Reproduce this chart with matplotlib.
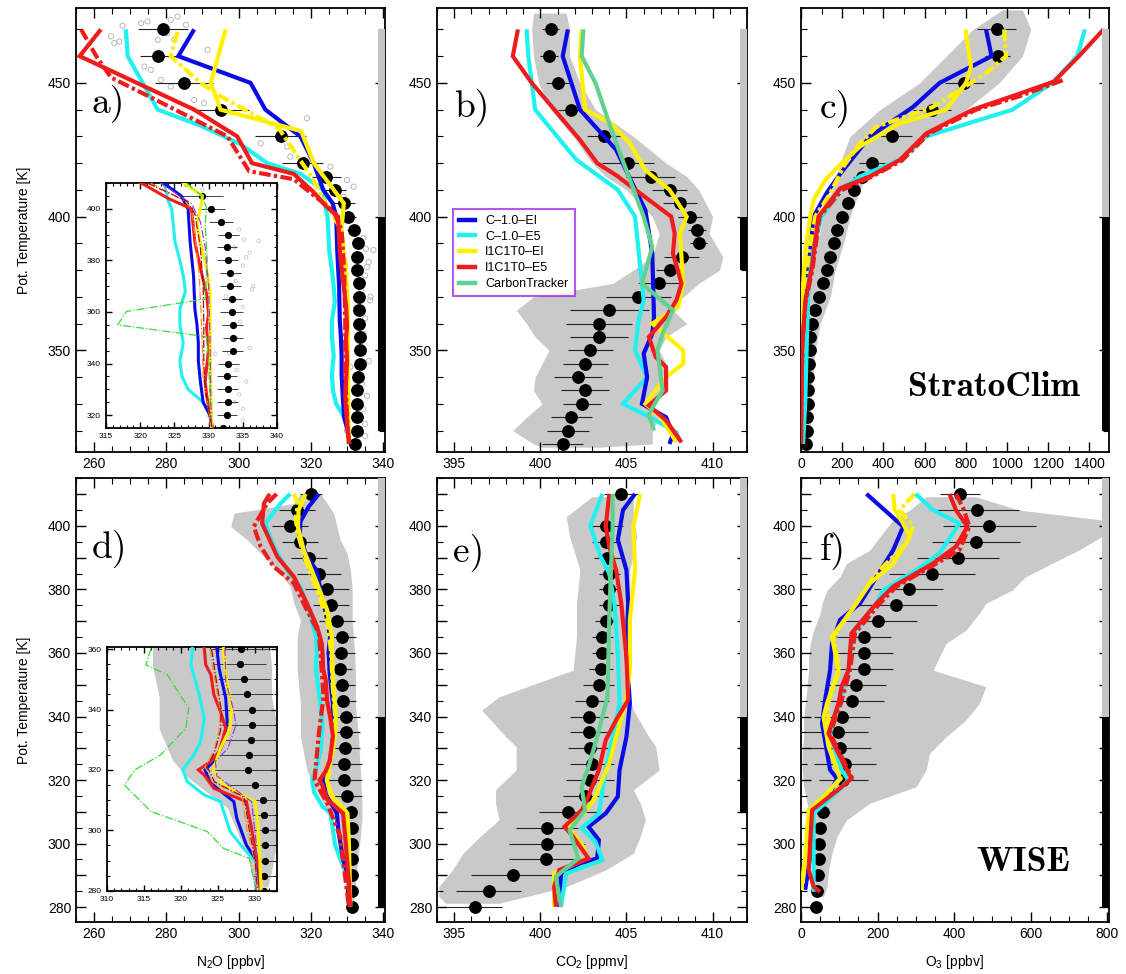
import matplotlib
matplotlib.use('Agg')
import matplotlib.pyplot as plt
from matplotlib.ticker import MultipleLocator, FuncFormatter
from matplotlib.patches import Rectangle
from matplotlib.lines import Line2D
import matplotlib.transforms as mtransforms

plt.rcParams['font.family'] = ['Liberation Sans', 'DejaVu Sans']
plt.rcParams['mathtext.fontset'] = 'custom'
plt.rcParams['mathtext.rm'] = 'Liberation Sans'
plt.rcParams['mathtext.it'] = 'Liberation Sans:italic'

# ------------------------------------------------------------------ data
LEGEND_LABELS = ['C–1.0–EI', 'C–1.0–E5', 'I1C1T0–EI', 'I1C1T0–E5', 'CarbonTracker']

# ---- panel a : N2O StratoClim
A_DOT_Y = [470, 460, 450, 440, 430, 420, 415, 410, 405, 400, 395, 390, 385, 380, 375, 370, 365, 360, 355, 350, 345, 340, 335, 330, 325, 320, 315]
A_DOT_X = [279.1, 277.6, 284.9, 295.0, 311.6, 317.7, 324.2, 326.8, 329.1, 330.4, 331.8, 332.9, 332.7, 332.8, 333.2, 333.2, 333.4, 333.4, 333.5, 333.6, 333.5, 332.9, 332.7, 332.8, 332.8, 332.7, 332.1]
A_DOT_ERR = [7, 5, 8, 8, 7, 5.7, 4, 3, 3, 2, 1.7, 1.5, 1.5, 1.5, 1.5, 1.5, 1.5, 1.7, 1.5, 1.5, 1.5, 1.5, 1.5, 1.5, 1.5, 1.5, 1.5]
A_BLUE_Y = [470, 460, 450, 440, 430, 420, 410, 405, 400, 387, 374, 361, 355, 348, 341, 333, 325, 320, 315]
A_BLUE_X = [287.7, 283.3, 303.3, 307.4, 317.1, 320.8, 323.4, 326.0, 327.0, 327.3, 327.8, 328.0, 328.3, 328.5, 328.5, 328.8, 329.2, 330.2, 330.5]
A_CYAN_Y = [470, 460, 440, 434, 427, 420, 416, 410, 403, 400, 387, 380, 374, 368, 361, 355, 348, 341, 335, 330, 325, 320, 315]
A_CYAN_X = [268.8, 269.3, 277.6, 289.5, 300.6, 307.9, 317.1, 323.5, 324.1, 324.6, 325.1, 325.8, 326.3, 326.6, 325.8, 325.8, 326.3, 325.8, 326.1, 327.0, 329.2, 330.2, 330.5]
A_RED_Y = [470, 460, 440, 430, 420, 416, 409.5, 404, 400, 387, 377, 367, 359, 354, 346, 338, 333, 328, 320, 315]
A_RED_X = [261.9, 256.0, 287.7, 299.6, 303.7, 315.2, 320.5, 324.1, 327.5, 328.0, 328.8, 329.7, 330.0, 329.7, 330.0, 329.7, 329.5, 329.7, 330.2, 330.6]
A_REDDD_Y = [470, 460, 452, 444, 430, 417, 414, 402, 395, 380, 360, 340, 320, 315]
A_REDDD_X = [256.4, 260.6, 264.7, 276.6, 296.9, 302.9, 315.2, 326.3, 328.5, 329.2, 329.5, 329.5, 330.2, 330.6]
A_YEL_Y = [470, 450, 440, 432, 420, 405, 400, 394, 387, 377, 368, 355, 335, 320, 315]
A_YEL_X = [296.4, 292.3, 295.0, 317.3, 320.8, 329.1, 328.8, 328.3, 328.8, 329.7, 330.2, 330.2, 330.3, 330.4, 330.4]
A_YELDD_Y = [469, 460, 450, 445, 433, 414, 404, 395, 380, 360, 340, 320, 315]
A_YELDD_X = [283.1, 281.2, 289.5, 295.0, 311.1, 320.6, 324.4, 328.5, 329.8, 330.0, 330.1, 330.3, 330.4]
A_PTS_X = [267.9, 264.7, 265.6, 267.0, 273.0, 274.8, 281.2, 283.1, 285.4, 280.3, 277.6, 282.2, 273.9, 275.7, 278.5, 281.2, 287.7, 291.4, 290.4, 318.9, 314.3, 313.4, 306.1, 325.4, 330.0, 329.1, 331.8, 335.5, 336.4, 334.6, 337.3, 330.9, 334.1, 335.0, 330.0, 334.5, 335.2, 333.8, 336.0, 335.0, 334.0, 336.5, 332.5, 335.0, 334.0, 336.0, 333.0, 335.5, 334.5, 333.8, 335.0]
A_PTS_Y = [471.3, 467.4, 464.9, 465.5, 472.3, 473.0, 473.6, 474.8, 471.7, 468.6, 466.1, 466.1, 456.1, 454.9, 451.1, 448.6, 443.6, 462.4, 442.4, 436.8, 422.4, 426.2, 427.4, 418.7, 413.7, 407.4, 411.2, 381.2, 368.7, 356.2, 387.5, 343.8, 337.5, 322.5, 320.0, 392, 388, 385, 383, 378, 372, 370, 366, 362, 350, 346, 344, 333, 328, 325, 318]
# inset-only thin dash-dot series
AI_GRN_Y = [410, 405, 400.4, 394, 380, 365, 360.2, 355, 350.4, 340, 320, 315]
AI_GRN_X = [326.8, 329.0, 329.7, 329.5, 329.8, 329.5, 318.0, 316.7, 329.7, 330.0, 330.3, 330.4]
AI_PUR_Y = [410, 402, 395, 385, 370, 350, 330, 315]
AI_PUR_X = [322.9, 327.5, 328.8, 329.5, 330.0, 330.2, 330.3, 330.4]
AI_ORG_Y = [410, 403, 400, 390, 375, 360, 345, 335, 325, 320, 315]
AI_ORG_X = [321.5, 326.5, 327.5, 328.0, 328.6, 328.9, 329.1, 329.2, 329.8, 330.2, 330.5]
AI_DRD_Y = [410, 403, 398, 385, 370, 355, 340, 330, 320, 315]
AI_DRD_X = [321.0, 326.8, 328.0, 328.8, 329.2, 329.3, 329.3, 329.5, 330.2, 330.5]

# ---- panel b : CO2 StratoClim
B_DOT_Y = A_DOT_Y
B_DOT_X = [400.6, 400.5, 401.0, 401.8, 403.7, 405.1, 406.4, 407.5, 408.1, 408.7, 409.1, 409.2, 408.2, 407.5, 406.9, 405.7, 404.0, 403.4, 403.4, 402.9, 402.6, 402.2, 402.6, 402.4, 401.8, 401.6, 401.3]
B_DOT_ERR = [0.5, 0.5, 0.7, 0.8, 1.0, 1.5, 1.4, 1.0, 1.0, 0.7, 0.5, 0.5, 1.0, 0.8, 1.2, 1.9, 2.3, 1.9, 1.7, 1.3, 1.3, 1.4, 1.4, 1.1, 1.2, 1.2, 1.2]
B_BLUE_Y = [470, 460, 440, 425, 402.4, 386.2, 362.5, 356.2, 348.8, 340, 330, 325, 318.8, 315]
B_BLUE_X = [401.6, 401.3, 402.3, 404.4, 406.1, 406.5, 406.6, 406.5, 406.0, 406.2, 405.9, 407.3, 407.7, 407.5]
B_CYAN_Y = [470, 460, 440, 421.2, 410, 400, 381.2, 368.7, 361.2, 350, 340, 330, 325.6, 319.4, 316]
B_CYAN_X = [399.2, 399.3, 399.7, 402.1, 404.5, 405.5, 405.8, 406.0, 405.7, 405.5, 406.2, 404.8, 406.2, 407.9, 408.1]
B_RED_Y = [470, 460, 450, 428.7, 420, 415.5, 408.7, 400, 393.7, 386.2, 375, 368.7, 362.5, 355, 347.5, 343.8, 335, 329.4, 323.8, 315.6]
B_RED_X = [398.7, 398.4, 399.5, 402.3, 403.3, 404.4, 405.8, 407.6, 407.8, 407.7, 408.2, 407.9, 407.3, 406.3, 406.7, 407.3, 407.3, 406.3, 407.3, 408.2]
B_YEL_Y = [470, 460, 440, 434.9, 427.4, 417.4, 410, 400, 393.7, 375, 366.2, 360, 350, 345, 340, 330, 325, 315.6]
B_YEL_X = [402.4, 402.3, 402.6, 404.1, 405.2, 406.1, 407.5, 408.5, 408.1, 408.3, 408.0, 406.5, 408.3, 408.3, 407.3, 406.1, 407.0, 407.9]
B_GRN_Y = [470, 460, 450, 431.1, 400, 388.7, 375, 365, 356.2, 350, 335, 326.2, 320]
B_GRN_X = [402.5, 402.4, 403.2, 404.2, 406.0, 406.5, 405.9, 407.7, 407.1, 406.8, 407.1, 406.3, 406.6]
B_CLD_Y = [476.1, 470, 460, 450, 440, 430, 420, 415, 410, 400, 393.7, 385, 380, 375, 370, 365, 360, 355, 350, 345, 340, 335, 330, 325, 320, 315, 313.8]
B_CLD_L = [399.6, 399.5, 399.6, 399.9, 400.6, 401.9, 403.0, 403.8, 405.0, 406.5, 406.9, 406.5, 405.4, 404.2, 399.6, 398.6, 399.2, 399.7, 400.5, 400.1, 399.7, 399.6, 400.1, 399.2, 398.4, 399.6, 400.1]
B_CLD_R = [401.5, 401.7, 401.7, 402.3, 403.2, 405.4, 407.3, 408.5, 409.2, 410.0, 409.8, 410.6, 410.4, 409.2, 408.3, 407.7, 408.5, 407.3, 406.9, 407.3, 407.1, 406.9, 406.5, 406.9, 406.5, 406.5, 403.4]

# ---- panel c : O3 StratoClim
C_DOT_Y = A_DOT_Y
C_DOT_X = [949, 954, 793, 637, 444, 344, 294, 257, 230, 198, 174, 158, 142, 126, 105, 85, 69, 53, 45, 42, 37, 34, 34, 32, 29, 29, 26]
C_DOT_ERR = [97, 60, 93, 93, 93, 64, 40, 25, 20, 15, 12, 10, 10, 10, 10, 10, 10, 8, 8, 8, 8, 8, 8, 8, 8, 8, 8]
C_BLUE_Y = [470, 460, 450, 441, 430, 416, 409, 400, 375, 356, 315]
C_BLUE_X = [898, 925, 673, 544, 335, 190, 126, 61, 29, 21, 5]
C_YEL_Y = [470, 456, 450, 440, 434.9, 426.2, 420, 413.7, 406.2, 400, 387.5, 368.7, 343.8, 315]
C_YEL_X = [798, 825, 801, 704, 480, 286, 198, 117, 61, 45, 21, 5, 0, 5]
C_YELDD_Y = [470, 460, 453.6, 441, 433.6, 427.4, 418.7, 408.7, 400, 387, 370, 350, 330, 315]
C_YELDD_X = [986, 995, 898, 640, 367, 286, 206, 142, 69, 40, 18, 8, 4, 3]
C_CYAN_Y = [470, 460, 450, 440, 430, 421.2, 415, 410, 400, 391.2, 375, 356.2, 331.3, 315]
C_CYAN_X = [1378, 1341, 1220, 1027, 608, 480, 286, 190, 101, 69, 37, 29, 21, 10]
C_RED_Y = [470, 460, 450.5, 445.5, 440, 431.1, 421.2, 415, 410.6, 400, 381.2, 368.7, 350, 315]
C_RED_X = [1469, 1349, 1228, 1043, 834, 608, 480, 335, 190, 85, 53, 21, 5, 0]
C_REDDD_Y = [451, 445, 440, 431, 421, 415, 410, 400, 380, 368, 350, 315]
C_REDDD_X = [1270, 1060, 850, 620, 490, 345, 200, 90, 55, 22, 5, 0]
C_CLD_Y = [477.3, 470, 460, 450, 440, 430, 420, 415, 410, 400, 390, 380, 370, 360, 350, 340, 330, 320, 313.8]
C_CLD_L = [978, 834, 705, 576, 383, 238, 190, 174, 150, 109, 77, 45, 29, 13, 5, 5, 5, 5, 5]
C_CLD_R = [1075, 1115, 1075, 962, 801, 576, 447, 319, 286, 238, 206, 166, 142, 93, 69, 58, 48, 45, 42]

# ---- panel d : N2O WISE
D_DOT_Y = [410, 405, 400, 395, 390, 385, 380, 375, 370, 365, 360, 355, 350, 345, 340, 335, 330, 325, 320, 315, 310, 305, 300, 295, 290, 285, 280]
D_DOT_X = [320.0, 316.2, 314.2, 316.9, 319.4, 322.2, 324.5, 325.6, 327.2, 328.6, 328.2, 328.0, 328.6, 329.0, 329.6, 329.6, 329.5, 329.2, 329.1, 330.1, 331.2, 331.3, 331.4, 331.4, 331.4, 331.3, 331.3]
D_DOT_ERR = [3, 5, 5, 5, 5, 6, 6, 5, 5, 4, 4, 3.5, 3.5, 3.5, 4, 4, 4, 5, 5, 4, 1.5, 1.5, 1.5, 1.5, 1.5, 1.5, 1.5]
D_BLUE_Y = [410.1, 406.1, 401.4, 396.6, 390.3, 386.1, 375.6, 370.4, 365.1, 360.3, 353.7, 343.8, 336, 329.4, 323.9, 320, 315.6, 309.5, 304, 295.1, 289.6, 280.2]
D_BLUE_X = [322.2, 319.4, 317.1, 316.9, 318.9, 321.5, 323.5, 324.5, 325.3, 324.9, 325.2, 326.1, 326.3, 325.8, 324.9, 323.3, 324.1, 327.2, 327.6, 328.9, 330.4, 330.8]
D_CYAN_Y = [410.1, 407.1, 400.8, 393.5, 386.1, 380.9, 371.4, 365.1, 360.3, 354.8, 344.9, 337.1, 329.4, 325, 320, 316.1, 311.7, 309.5, 299.6, 294, 289.1, 280.2]
D_CYAN_X = [314.3, 311.6, 307.4, 309.7, 313.4, 317.1, 319.9, 321.4, 321.6, 321.4, 322.5, 323.2, 322.7, 321.8, 320.3, 320.9, 323.2, 325.4, 326.7, 328.5, 330.4, 330.8]
D_RED_Y = [410.1, 407.1, 400.8, 390.3, 384, 375.6, 368.3, 363, 360.3, 354.8, 351.5, 344.9, 339.3, 333.8, 326.1, 322.8, 320, 318.3, 313.9, 309.5, 300.7, 290.7, 287.4, 280.2]
D_RED_X = [308.6, 307.0, 306.5, 310.7, 315.3, 318.9, 321.7, 323.0, 323.2, 323.4, 324.1, 324.5, 325.4, 326.1, 325.2, 324.1, 322.4, 323.2, 324.5, 328.9, 329.6, 330.3, 330.6, 330.8]
D_REDDD_Y = [410.1, 407.1, 399.8, 393.5, 387.2, 381.9, 373.5, 366.2, 358.8, 346.2, 334.7, 320, 312.7, 302.2, 281]
D_REDDD_X = [310.5, 307.9, 304.2, 306.1, 309.7, 315.3, 318.9, 322.2, 322.7, 323.5, 322.2, 321.0, 324.5, 328.1, 330.4]
D_YEL_Y = [410.1, 405, 399.8, 392.4, 381.9, 373.5, 365.1, 360.3, 351.5, 340.4, 333.8, 327.2, 320, 315, 309.5, 300.7, 290.7, 280.2]
D_YEL_X = [318.5, 316.6, 316.4, 318.0, 321.7, 324.5, 325.8, 325.8, 326.1, 326.9, 326.7, 325.4, 324.4, 325.8, 330.1, 330.5, 330.7, 330.9]
D_YELDD_Y = [410.1, 407, 401.9, 396.6, 389.3, 379.8, 370.4, 360, 350, 340, 330, 320, 315, 310, 300, 290, 280]
D_YELDD_X = [315.3, 316.4, 315.8, 316.6, 318.5, 321.7, 324.5, 325.6, 326.0, 326.7, 326.2, 324.6, 325.6, 329.8, 330.4, 330.6, 330.9]
DI_GRN_Y = [360.3, 354.8, 351.5, 340.4, 333.8, 325, 320, 315, 306.2, 299.6, 294, 290.7, 280.2]
DI_GRN_X = [316.0, 315.3, 318.2, 321.1, 320.7, 317.3, 313.8, 312.4, 316.0, 323.6, 325.8, 329.3, 330.2]
DI_PUR_Y = [360.3, 349.3, 340.4, 334.9, 327.2, 322.8, 318, 309.5, 296.2, 280.2]
DI_PUR_X = [326.0, 326.1, 327.1, 327.5, 326.4, 324.7, 324.9, 329.6, 330.2, 330.2]
DI_ORG_Y = [360, 350, 340, 333, 326, 321, 316, 311, 300, 290, 280]
DI_ORG_X = [324.0, 324.6, 325.4, 325.2, 324.5, 323.3, 324.3, 328.3, 329.0, 330.0, 330.4]
DI_DRD_Y = [360, 350, 340, 333, 326, 321, 316, 311, 300, 290, 280]
DI_DRD_X = [324.2, 324.8, 325.5, 325.4, 324.6, 323.6, 324.6, 328.6, 329.3, 330.1, 330.4]
D_CLD_Y = [410.1, 407.1, 404, 399.8, 395.6, 391.4, 386.1, 380.9, 375.6, 370.4, 365.1, 354.6, 344.1, 338.9, 333.6, 328.4, 323.2, 317.9, 312.7, 307.5, 302.2, 296.9, 291.7, 286.4, 281.2]
D_CLD_L = [317.1, 315.3, 298.7, 297.8, 302.4, 306.1, 310.7, 314.3, 315.3, 317.1, 316.2, 316.2, 317.1, 317.1, 317.1, 318.0, 318.9, 320.8, 323.5, 326.3, 327.2, 328.1, 329.1, 329.5, 330.0]
D_CLD_R = [322.6, 324.5, 326.3, 327.2, 328.1, 330.0, 330.9, 331.4, 331.4, 331.4, 331.8, 332.3, 332.3, 332.7, 333.2, 333.4, 333.7, 333.9, 334.1, 334.1, 333.7, 333.2, 332.7, 332.3, 331.8]

# ---- panel e : CO2 WISE
E_DOT_Y = [410, 400, 395, 390, 385, 380, 375, 370, 365, 360, 355, 350, 345, 340, 335, 330, 325, 320, 315, 310, 305, 300, 295, 290, 285, 280]
E_DOT_X = [404.7, 403.8, 403.8, 403.9, 404.0, 404.0, 404.0, 403.8, 403.6, 403.6, 403.5, 403.4, 403.0, 402.8, 402.8, 402.9, 403.0, 402.9, 402.6, 401.6, 400.4, 400.4, 400.3, 398.4, 397.0, 396.2]
E_DOT_ERR = [1.0, 1.0, 0.8, 0.8, 0.6, 0.6, 0.6, 0.6, 0.6, 0.6, 0.7, 0.9, 1.0, 1.1, 1.1, 1.3, 1.3, 1.4, 1.3, 1.7, 1.8, 2.2, 2.1, 2.4, 1.9, 1.6]
E_BLUE_Y = [410.1, 405, 395.6, 386.1, 375.6, 359.9, 344.1, 333.6, 323.2, 314.8, 309.5, 305.3, 301.1, 295.3, 293.8, 290.6, 280]
E_BLUE_X = [405.5, 404.8, 404.5, 405.0, 405.1, 405.0, 405.2, 405.0, 404.6, 404.5, 403.8, 402.8, 403.4, 403.3, 402.3, 401.2, 401.1]
E_CYAN_Y = [410.1, 400.1, 390.3, 385.1, 375.6, 359.9, 344.1, 333.6, 323.2, 309.5, 304.8, 300.6, 294.8, 290.6, 280.1]
E_CYAN_X = [403.6, 402.9, 403.5, 404.0, 404.3, 404.5, 404.6, 404.2, 403.8, 403.4, 402.4, 403.2, 403.6, 401.5, 401.2]
E_RED_Y = [410.1, 399.8, 393.5, 386.1, 375.6, 358.8, 345.2, 338.9, 332.6, 323.2, 313.7, 310.5, 305.3, 302.2, 295.3, 291.7, 286.4, 280.1]
E_RED_X = [404.0, 403.8, 404.0, 404.4, 404.7, 405.0, 405.1, 404.4, 403.8, 403.4, 402.7, 402.4, 401.4, 401.9, 402.8, 401.1, 400.8, 400.9]
E_YEL_Y = [410.1, 399.8, 386.1, 370.4, 354.6, 345.2, 333.6, 325.2, 313.7, 309.5, 305.3, 299, 295.3, 290.6, 280.1]
E_YEL_X = [405.8, 405.4, 405.5, 405.2, 405.2, 405.0, 404.4, 404.0, 403.1, 402.5, 401.6, 402.5, 402.7, 400.8, 400.8]
E_GRN_Y = [410.1, 399.8, 386.1, 370.4, 346.2, 333.6, 324.2, 317.9, 310.5, 304.2, 295.3, 289.6, 280.1]
E_GRN_X = [404.2, 404.2, 404.1, 404.0, 403.9, 403.3, 402.8, 402.4, 402.6, 401.7, 402.2, 400.9, 401.2]
E_CLD_Y = [409.2, 402.9, 396.6, 386.1, 375.6, 365.1, 354.6, 346.2, 342.0, 333.6, 330.5, 323.2, 316.9, 312.7, 307.5, 302.2, 296.9, 291.7, 286.4, 283.3, 281.2]
E_CLD_L = [403.0, 401.5, 401.7, 402.3, 402.1, 402.1, 401.9, 397.6, 396.6, 398.0, 398.6, 398.6, 397.4, 397.4, 397.6, 396.5, 395.5, 394.9, 394.1, 394.1, 394.5]
E_CLD_R = [405.4, 405.4, 405.6, 405.2, 405.2, 405.0, 405.0, 405.2, 405.4, 406.3, 406.7, 406.9, 405.4, 405.8, 406.1, 405.8, 405.4, 403.8, 401.5, 399.2, 397.6]

# ---- panel f : O3 WISE
F_DOT_Y = [410, 405, 400, 395, 390, 385, 380, 375, 370, 365, 360, 355, 350, 345, 340, 335, 330, 325, 320, 310, 305, 300, 295, 290, 285, 280]
F_DOT_X = [416, 461, 492, 457, 410, 343, 282, 249, 202, 165, 165, 165, 145, 133, 107, 96, 102, 115, 111, 57, 50, 48, 48, 45, 42, 40]
F_DOT_ERR = [52, 110, 121, 115, 108, 113, 90, 106, 100, 71, 76, 76, 78, 84, 74, 80, 80, 80, 65, 20, 15, 15, 15, 15, 15, 15]
F_BLUE_Y = [410.1, 399.8, 392.4, 375.6, 370.4, 363, 354.6, 345.2, 337.8, 323.2, 320.5, 314.8, 310.5, 295.9, 285.4]
F_BLUE_X = [171, 267, 241, 154, 102, 81, 76, 63, 55, 76, 94, 72, 24, 24, 11]
F_YEL_Y = [410.1, 405, 400.8, 396.6, 388.2, 381.9, 375.6, 365.1, 354.6, 344.1, 339.9, 330.5, 320.5, 315.8, 310.5, 295.9, 285.4]
F_YEL_X = [241, 245, 267, 284, 241, 180, 145, 81, 98, 68, 59, 72, 102, 68, 20, 11, 0]
F_YELDD_Y = [410.1, 405, 399.8, 394.5, 384, 376.7, 365.1, 354.6, 344.1, 330.5, 320.5, 315.8, 310.5, 295.9, 285.4]
F_YELDD_X = [297, 258, 293, 275, 189, 150, 85, 100, 70, 74, 104, 70, 22, 13, 2]
F_CYAN_Y = [410.1, 405, 400.8, 391.4, 386.1, 379.8, 375.6, 366.2, 354.6, 346.2, 334.7, 323.2, 320, 313.7, 309.5, 295.9, 284.8]
F_CYAN_X = [300, 345, 414, 362, 301, 215, 197, 137, 124, 106, 76, 106, 124, 72, 33, 33, 33]
F_RED_Y = [410.1, 405, 399.8, 393.5, 388.2, 380.9, 375.6, 366.2, 354.6, 349.4, 344.1, 334.7, 325.2, 320.5, 317.4, 310.5, 291.7, 286.4, 284.8]
F_RED_X = [388, 405, 435, 405, 345, 241, 197, 132, 124, 106, 98, 72, 111, 132, 102, 29, 20, 33, 50]
F_REDDD_Y = [410.1, 405, 399.8, 392.4, 388.2, 380.9, 375.6, 366.2, 354.6, 344.1, 334.7, 325.2, 320.5]
F_REDDD_X = [405, 426, 440, 414, 354, 249, 206, 141, 128, 104, 76, 115, 134]
F_CLD_Y = [409.2, 405.0, 401.9, 396.6, 392.4, 388.2, 384.0, 379.8, 375.6, 372.5, 367.2, 363.0, 358.8, 354.6, 349.4, 344.1, 338.9, 333.6, 328.4, 323.2, 317.9, 312.7, 307.4, 302.2, 296.9, 291.7, 286.4, 283.3]
F_CLD_L = [327, 284, 241, 206, 180, 119, 102, 68, 55, 50, 33, 24, 20, 20, 16, 11, 7, 7, 3, 3, 7, 16, 24, 29, 33, 33, 33, 37]
F_CLD_R = [457, 570, 786, 786, 726, 656, 587, 552, 483, 466, 431, 379, 362, 345, 483, 466, 431, 379, 336, 327, 301, 180, 119, 94, 81, 72, 68, 59]

# side bars (grey range, black range) per panel
BARS = {
    'a': [(400, 470), (320, 400)], 'b': [(400, 470), (380, 400)], 'c': [(400, 470), (320, 400)],
    'd': [(340, 415), (280, 340)], 'e': [(340, 415), (310, 340)], 'f': [(340, 415), (280, 340)],
}

# ------------------------------------------------------------------ style
BLUE = '#0b0be6'
CYAN = '#1ff0f0'
YEL = '#fff000'
RED = '#ee1c1c'
GRN = '#62d08e'
CLOUD = '#c9c9c9'
LW = 3.0
DD = [2.8, 0.8, 0.8, 0.8]

fig = plt.figure(figsize=(11.26, 9.74), dpi=100)
W, H = 1126.0, 974.0


def add_ax(l, r, t, b):
    return fig.add_axes([l / W, 1 - b / H, (r - l) / W, (b - t) / H])


def style(ax, xmaj, xmin, ymaj, ymin, ylab_step, labelsize=10, lmaj=7, lmin=4):
    ax.xaxis.set_major_locator(MultipleLocator(xmaj))
    ax.xaxis.set_minor_locator(MultipleLocator(xmin))
    ax.yaxis.set_major_locator(MultipleLocator(ymaj))
    ax.yaxis.set_minor_locator(MultipleLocator(ymin))
    ax.yaxis.set_major_formatter(FuncFormatter(
        lambda v, p: '%d' % round(v) if abs(v / ylab_step - round(v / ylab_step)) < 1e-6 else ''))
    ax.xaxis.set_major_formatter(FuncFormatter(lambda v, p: '%d' % round(v)))
    ax.tick_params(which='both', direction='in', top=True, right=True, labelsize=labelsize)
    ax.tick_params(which='major', length=lmaj, width=1.0)
    ax.tick_params(which='minor', length=lmin, width=0.8)
    for s in ax.spines.values():
        s.set_linewidth(1.3)


def side_bars(ax, key):
    tr = mtransforms.blended_transform_factory(ax.transAxes, ax.transData)
    for (y0, y1), c in zip(BARS[key], ['#c4c4c4', 'black']):
        ax.add_patch(Rectangle((0.977, y0), 0.023, y1 - y0, transform=tr,
                               facecolor=c, edgecolor='none', zorder=6, clip_on=False))


def dots(ax, x, y, err, ms=8.2, elw=0.8):
    ax.errorbar(x, y, xerr=err, fmt='o', ms=ms, mfc='black', mec='black', ecolor='#222222',
                elinewidth=elw, capsize=0, zorder=3)


def line(ax, x, y, c, lw=LW, dashed=False, z=4):
    kw = dict(color=c, lw=lw, zorder=z, solid_joinstyle='miter', solid_capstyle='butt')
    if dashed:
        kw['dashes'] = DD
    ax.plot(x, y, **kw)


def panel_label(ax, txt, x, y):
    ax.text(x, y, txt, transform=ax.transAxes, fontsize=27, family='cmr10',
            ha='left', va='center', zorder=8)


# ------------------------------------------------------------------ panel a
axa = add_ax(76, 385, 8, 452)
axa.scatter(A_PTS_X, A_PTS_Y, s=14, facecolors='none', edgecolors='#b8b8b8', linewidths=0.7, zorder=1)
dots(axa, A_DOT_X, A_DOT_Y, A_DOT_ERR)
line(axa, A_CYAN_X, A_CYAN_Y, CYAN)
line(axa, A_BLUE_X, A_BLUE_Y, BLUE)
line(axa, A_YELDD_X, A_YELDD_Y, YEL, dashed=True)
line(axa, A_YEL_X, A_YEL_Y, YEL)
line(axa, A_REDDD_X, A_REDDD_Y, RED, dashed=True)
line(axa, A_RED_X, A_RED_Y, RED)
axa.set_xlim(255, 340.5)
axa.set_ylim(312, 478)
style(axa, 20, 5, 50, 10, 50)
axa.set_ylabel('Pot. Temperature [K]', fontsize=10, labelpad=12)
side_bars(axa, 'a')
panel_label(axa, 'a)', 0.05, 0.786)

# inset a
ia = add_ax(106, 277, 183, 428)
ia.set_zorder(10)
ia.set_facecolor('white')
ia.scatter(A_PTS_X, A_PTS_Y, s=6, facecolors='none', edgecolors='#bdbdbd', linewidths=0.5, zorder=1)
dots(ia, A_DOT_X, A_DOT_Y, A_DOT_ERR, ms=4.2, elw=0.6)
line(ia, A_CYAN_X, A_CYAN_Y, CYAN, lw=2.2)
line(ia, A_BLUE_X, A_BLUE_Y, BLUE, lw=2.2)
line(ia, A_RED_X, A_RED_Y, RED, lw=2.2)
line(ia, A_YEL_X, A_YEL_Y, YEL, lw=2.2)
for xs, ys, c in [(AI_GRN_X, AI_GRN_Y, '#33dd33'), (AI_PUR_X, AI_PUR_Y, '#9a3de0'),
                  (AI_ORG_X, AI_ORG_Y, '#ff8c1a'), (AI_DRD_X, AI_DRD_Y, '#a01010')]:
    ia.plot(xs, ys, color=c, lw=0.9, ls='-.', zorder=5)
ia.set_xlim(315, 340)
ia.set_ylim(315, 410)
style(ia, 5, 1, 20, 5, 20, labelsize=6, lmaj=4, lmin=2)

# ------------------------------------------------------------------ panel b
axb = add_ax(437, 747, 8, 452)
axb.fill_betweenx(B_CLD_Y, B_CLD_L, B_CLD_R, color=CLOUD, lw=0, zorder=1)
dots(axb, B_DOT_X, B_DOT_Y, B_DOT_ERR)
line(axb, B_CYAN_X, B_CYAN_Y, CYAN)
line(axb, B_BLUE_X, B_BLUE_Y, BLUE)
line(axb, B_YEL_X, B_YEL_Y, YEL)
line(axb, B_RED_X, B_RED_Y, RED)
line(axb, B_GRN_X, B_GRN_Y, GRN)
axb.set_xlim(394, 412)
axb.set_ylim(312, 478)
style(axb, 5, 1, 50, 10, 50)
side_bars(axb, 'b')
panel_label(axb, 'b)', 0.055, 0.777)
handles = [Line2D([], [], color=c, lw=3.2) for c in [BLUE, CYAN, YEL, RED, GRN]]
leg = axb.legend(handles, LEGEND_LABELS, loc='upper left', bbox_to_anchor=(0.05, 0.548),
                 fontsize=9, frameon=True, fancybox=False, handlelength=1.3, handletextpad=0.8,
                 labelspacing=0.3, borderpad=0.5, borderaxespad=0)
leg.get_frame().set_edgecolor('#9a2fe6')
leg.get_frame().set_linewidth(1.5)
leg.set_zorder(9)

# ------------------------------------------------------------------ panel c
axc = add_ax(801, 1109, 8, 452)
axc.fill_betweenx(C_CLD_Y, C_CLD_L, C_CLD_R, color=CLOUD, lw=0, zorder=1)
dots(axc, C_DOT_X, C_DOT_Y, C_DOT_ERR)
line(axc, C_BLUE_X, C_BLUE_Y, BLUE)
line(axc, C_YELDD_X, C_YELDD_Y, YEL, dashed=True)
line(axc, C_YEL_X, C_YEL_Y, YEL)
line(axc, C_CYAN_X, C_CYAN_Y, CYAN)
line(axc, C_REDDD_X, C_REDDD_Y, RED, dashed=True)
line(axc, C_RED_X, C_RED_Y, RED)
axc.set_xlim(0, 1495)
axc.set_ylim(312, 478)
style(axc, 200, 100, 50, 10, 50)
side_bars(axc, 'c')
panel_label(axc, 'c)', 0.062, 0.775)
axc.text(0.627, 0.146, 'StratoClim', transform=axc.transAxes, family='cmb10', fontsize=25.5,
         ha='center', va='center', zorder=8)

# ------------------------------------------------------------------ panel d
axd = add_ax(76, 385, 478, 922)
axd.fill_betweenx(D_CLD_Y, D_CLD_L, D_CLD_R, color=CLOUD, lw=0, zorder=1)
dots(axd, D_DOT_X, D_DOT_Y, D_DOT_ERR)
line(axd, D_CYAN_X, D_CYAN_Y, CYAN)
line(axd, D_BLUE_X, D_BLUE_Y, BLUE)
line(axd, D_YELDD_X, D_YELDD_Y, YEL, dashed=True)
line(axd, D_YEL_X, D_YEL_Y, YEL)
line(axd, D_REDDD_X, D_REDDD_Y, RED, dashed=True)
line(axd, D_RED_X, D_RED_Y, RED)
axd.set_xlim(255, 340.5)
axd.set_ylim(275.3, 415.1)
style(axd, 20, 5, 10, 5, 20)
axd.set_ylabel('Pot. Temperature [K]', fontsize=10, labelpad=12)
axd.set_xlabel('N$_2$O [ppbv]', fontsize=10, labelpad=9)
side_bars(axd, 'd')
panel_label(axd, 'd)', 0.05, 0.842)

# inset d
idd = add_ax(106.7, 276.7, 646.7, 890.7)
idd.set_zorder(10)
idd.set_facecolor('white')
idd.fill_betweenx(D_CLD_Y, D_CLD_L, D_CLD_R, color=CLOUD, lw=0, zorder=1)
dots(idd, D_DOT_X, D_DOT_Y, D_DOT_ERR, ms=4.2, elw=0.6)
line(idd, D_CYAN_X, D_CYAN_Y, CYAN, lw=2.2)
line(idd, D_BLUE_X, D_BLUE_Y, BLUE, lw=2.2)
line(idd, D_RED_X, D_RED_Y, RED, lw=2.2)
line(idd, D_YEL_X, D_YEL_Y, YEL, lw=2.2)
for xs, ys, c in [(DI_GRN_X, DI_GRN_Y, '#33dd33'), (DI_PUR_X, DI_PUR_Y, '#9a3de0'),
                  (DI_ORG_X, DI_ORG_Y, '#ff8c1a'), (DI_DRD_X, DI_DRD_Y, '#a01010')]:
    idd.plot(xs, ys, color=c, lw=0.9, ls='-.', zorder=5)
idd.set_xlim(310, 333)
idd.set_ylim(280, 360.8)
style(idd, 5, 1, 20, 5, 20, labelsize=6, lmaj=4, lmin=2)

# ------------------------------------------------------------------ panel e
axe = add_ax(437, 747, 478, 922)
axe.fill_betweenx(E_CLD_Y, E_CLD_L, E_CLD_R, color=CLOUD, lw=0, zorder=1)
dots(axe, E_DOT_X, E_DOT_Y, E_DOT_ERR)
line(axe, E_BLUE_X, E_BLUE_Y, BLUE)
line(axe, E_CYAN_X, E_CYAN_Y, CYAN)
line(axe, E_YEL_X, E_YEL_Y, YEL)
line(axe, E_RED_X, E_RED_Y, RED)
line(axe, E_GRN_X, E_GRN_Y, GRN)
axe.set_xlim(394, 412)
axe.set_ylim(275.3, 415.1)
style(axe, 5, 1, 10, 5, 20)
axe.set_xlabel('CO$_2$ [ppmv]', fontsize=10, labelpad=9)
side_bars(axe, 'e')
panel_label(axe, 'e)', 0.052, 0.833)

# ------------------------------------------------------------------ panel f
axf = add_ax(801, 1109, 478, 922)
axf.fill_betweenx(F_CLD_Y, F_CLD_L, F_CLD_R, color=CLOUD, lw=0, zorder=1)
dots(axf, F_DOT_X, F_DOT_Y, F_DOT_ERR)
line(axf, F_BLUE_X, F_BLUE_Y, BLUE)
line(axf, F_YELDD_X, F_YELDD_Y, YEL, dashed=True)
line(axf, F_YEL_X, F_YEL_Y, YEL)
line(axf, F_CYAN_X, F_CYAN_Y, CYAN)
line(axf, F_REDDD_X, F_REDDD_Y, RED, dashed=True)
line(axf, F_RED_X, F_RED_Y, RED)
axf.set_xlim(0, 805)
axf.set_ylim(275.3, 415.1)
style(axf, 200, 50, 10, 5, 20)
axf.set_xlabel('O$_3$ [ppbv]', fontsize=10, labelpad=9)
side_bars(axf, 'f')
panel_label(axf, 'f)', 0.062, 0.838)
axf.text(0.721, 0.133, 'WISE', transform=axf.transAxes, family='cmb10', fontsize=25.5,
         ha='center', va='center', zorder=8)

fig.savefig('out.png', dpi=100)
